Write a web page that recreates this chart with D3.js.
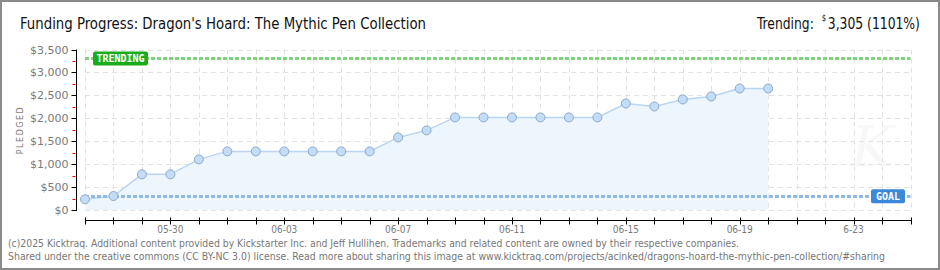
<!DOCTYPE html>
<html>
<head>
<meta charset="utf-8">
<script src="https://cdn.jsdelivr.net/npm/d3@7"></script>
<style>
  body { margin: 0; background: #fff; }
  svg { display: block; }
</style>
</head>
<body>
<div id="chart"></div>
<script>
// funding data
var dates = ["2025-05-27", "2025-05-28", "2025-05-29", "2025-05-30", "2025-05-31",
             "2025-06-01", "2025-06-02", "2025-06-03", "2025-06-04", "2025-06-05",
             "2025-06-06", "2025-06-07", "2025-06-08", "2025-06-09", "2025-06-10",
             "2025-06-11", "2025-06-12", "2025-06-13", "2025-06-14", "2025-06-15",
             "2025-06-16", "2025-06-17", "2025-06-18", "2025-06-19", "2025-06-20"]
var pledged = [233, 305, 777, 777, 1104,
               1278, 1278, 1278, 1278, 1278,
               1278, 1583, 1736, 2019, 2019,
               2019, 2019, 2019, 2019, 2323,
               2258, 2411, 2476, 2650, 2650]
var goal = 300
var trending = 3305
var yTicks = [0, 500, 1000, 1500, 2000, 2500, 3000, 3500]
var xLabels = ["05-30", "06-03", "06-07", "06-11", "06-15", "06-19", "6-23"]
var xLabelDates = ["2025-05-30", "2025-06-03", "2025-06-07", "2025-06-11", "2025-06-15", "2025-06-19", "2025-06-23"]
var startDate = "2025-05-27", endDate = "2025-06-25"

var width = 940, height = 270
var parse = d3.timeParse("%Y-%m-%d")

var svg = d3.select("#chart").append("svg")
    .attr("width", width)
    .attr("height", height)

// outer frame
svg.append("rect")
    .attr("x", 1).attr("y", 1)
    .attr("width", width - 2).attr("height", height - 2)
    .attr("fill", "#fff")
    .attr("stroke", "#8a8a8a")
    .attr("stroke-width", 2)

var x = d3.scaleTime()
    .domain([parse(startDate), parse(endDate)])
    .range([85, 910.5])
var y = d3.scaleLinear()
    .domain([0, 3500])
    .range([210, 49.5])

// faint watermark
svg.append("text")
    .attr("x", 872).attr("y", 166)
    .attr("text-anchor", "middle")
    .style("font-family", "DejaVu Serif")
    .style("font-style", "italic")
    .style("font-size", "56px")
    .style("fill", "#f8f8f8")
    .text("K")

// grid
var days = d3.timeDay.range(parse(startDate), d3.timeDay.offset(parse(endDate), 1))
svg.append("g").selectAll("line")
    .data(yTicks)
    .enter().append("line")
    .attr("x1", x.range()[0]).attr("x2", x.range()[1])
    .attr("y1", function(d){ return Math.round(y(d)) + 0.5 })
    .attr("y2", function(d){ return Math.round(y(d)) + 0.5 })
    .attr("stroke", "#e2e2e2")
    .attr("stroke-dasharray", "5,4")
svg.append("g").selectAll("line")
    .data(days)
    .enter().append("line")
    .attr("x1", function(d){ return Math.round(x(d)) + 0.5 })
    .attr("x2", function(d){ return Math.round(x(d)) + 0.5 })
    .attr("y1", y(3500)).attr("y2", y(0))
    .attr("stroke", "#e2e2e2")
    .attr("stroke-dasharray", "5,4")

// area + line
var pts = dates.map(function(d, i){ return {date: parse(d), value: pledged[i]} })
var area = d3.area()
    .x(function(d){ return x(d.date) })
    .y0(y(0))
    .y1(function(d){ return y(d.value) })
svg.append("path")
    .datum(pts)
    .attr("d", area)
    .attr("fill", "#edf5fd")
var line = d3.line()
    .x(function(d){ return x(d.date) })
    .y(function(d){ return y(d.value) })
svg.append("path")
    .datum(pts)
    .attr("d", line)
    .attr("fill", "none")
    .attr("stroke", "#b9d5f2")
    .attr("stroke-width", 1.5)

// goal and trending lines
svg.append("line")
    .attr("x1", x.range()[0]).attr("x2", x.range()[1])
    .attr("y1", Math.round(y(goal)) + 0.5).attr("y2", Math.round(y(goal)) + 0.5)
    .attr("stroke", "#92b9e6")
    .attr("stroke-width", 3)
    .attr("stroke-dasharray", "4,2")
svg.append("line")
    .attr("x1", x.range()[0]).attr("x2", x.range()[1])
    .attr("y1", Math.round(y(trending)) + 0.5).attr("y2", Math.round(y(trending)) + 0.5)
    .attr("stroke", "#7fd27f")
    .attr("stroke-width", 3)
    .attr("stroke-dasharray", "4,2")

// points
svg.append("g").selectAll("circle")
    .data(pts)
    .enter().append("circle")
    .attr("cx", function(d){ return x(d.date) })
    .attr("cy", function(d){ return y(d.value) })
    .attr("r", 4.5)
    .attr("fill", "#c3ddf8")
    .attr("stroke", "#8ea9c6")
    .attr("stroke-width", 1)

// badges
function badge(bx, by, w, label, color) {
    svg.append("rect")
        .attr("x", bx).attr("y", by)
        .attr("width", w).attr("height", 14)
        .attr("rx", 2)
        .attr("fill", color)
    svg.append("text")
        .attr("x", bx + w / 2).attr("y", by + 11)
        .attr("text-anchor", "middle")
        .style("font-family", "DejaVu Sans Mono")
        .style("font-weight", "bold")
        .style("font-size", "10px")
        .style("fill", "#fff")
        .text(label)
}
badge(93, y(trending) - 7, 55, "TRENDING", "#19ad19")
badge(871, y(goal) - 7, 34, "GOAL", "#3b87d9")

// y axis
var yAxis = svg.append("g")
    .attr("transform", "translate(76.5,0)")
yAxis.append("line")
    .attr("y1", y(3500)).attr("y2", y(0) + 1)
    .attr("stroke", "#000")
yAxis.selectAll(".major")
    .data(yTicks)
    .enter().append("line")
    .attr("x1", -5).attr("x2", 0)
    .attr("y1", function(d){ return Math.round(y(d)) + 0.5 })
    .attr("y2", function(d){ return Math.round(y(d)) + 0.5 })
    .attr("stroke", "#000")
yAxis.selectAll(".minor")
    .data(yTicks.slice(0, -1).map(function(d){ return d + 250 }))
    .enter().append("line")
    .attr("x1", -4).attr("x2", -1)
    .attr("y1", function(d){ return Math.round(y(d)) + 0.5 })
    .attr("y2", function(d){ return Math.round(y(d)) + 0.5 })
    .attr("stroke", "#e00")
yAxis.selectAll("text")
    .data(yTicks)
    .enter().append("text")
    .attr("x", -8)
    .attr("y", function(d){ return y(d) + 4 })
    .attr("text-anchor", "end")
    .style("font-family", "DejaVu Sans")
    .style("font-size", "11px")
    .style("fill", "#7a7a7a")
    .text(function(d){ return "$" + d3.format(",")(d) })

svg.append("text")
    .attr("transform", "translate(23,130) rotate(-90)")
    .attr("text-anchor", "middle")
    .style("font-family", "DejaVu Sans")
    .style("font-size", "8px")
    .style("letter-spacing", "1.5px")
    .style("fill", "#7a7a7a")
    .text("PLEDGED")

// x axis
var xAxis = svg.append("g")
    .attr("transform", "translate(0,220.5)")
xAxis.append("line")
    .attr("x1", x.range()[0]).attr("x2", x.range()[1] + 0.5)
    .attr("stroke", "#000")
xAxis.selectAll(".tick")
    .data(days)
    .enter().append("line")
    .attr("x1", function(d){ return Math.round(x(d)) + 0.5 })
    .attr("x2", function(d){ return Math.round(x(d)) + 0.5 })
    .attr("y1", -3).attr("y2", 4)
    .attr("stroke", "#000")
xAxis.selectAll("text")
    .data(xLabelDates)
    .enter().append("text")
    .attr("x", function(d){ return x(parse(d)) })
    .attr("y", 12)
    .attr("text-anchor", "middle")
    .style("font-family", "DejaVu Sans Condensed")
    .style("font-size", "10px")
    .style("fill", "#7a7a7a")
    .text(function(d, i){ return xLabels[i] })

// titles
svg.append("text")
    .attr("x", 20).attr("y", 29)
    .attr("textLength", 406)
    .attr("lengthAdjust", "spacingAndGlyphs")
    .style("font-family", "DejaVu Sans Condensed")
    .style("font-size", "16px")
    .style("fill", "#111")
    .text("Funding Progress: Dragon's Hoard: The Mythic Pen Collection")

// trending header: three separate texts laid out by measured width, then squeezed
var trendG = svg.append("g")
var t1 = trendG.append("text")
    .attr("x", 0).attr("y", 0)
    .style("font-family", "DejaVu Sans Condensed")
    .style("font-size", "16px")
    .style("fill", "#111")
    .text("Trending:")
var w1 = t1.node().getComputedTextLength()
var t2 = trendG.append("text")
    .attr("x", w1 + 9).attr("y", -8)
    .style("font-family", "DejaVu Sans Condensed")
    .style("font-size", "9px")
    .style("fill", "#111")
    .text("$")
var w2 = t2.node().getComputedTextLength()
var t3 = trendG.append("text")
    .attr("x", w1 + 9 + w2 + 2).attr("y", 0)
    .style("font-family", "DejaVu Sans Condensed")
    .style("font-size", "16px")
    .style("fill", "#111")
    .text(d3.format(",")(trending) + " (" + Math.floor(trending / goal * 100) + "%)")
var total = w1 + 9 + w2 + 2 + t3.node().getComputedTextLength()
trendG.attr("transform", "translate(757,29) scale(" + (163 / total) + ",1)")

// footer
var footer = [
    "(c)2025 Kicktraq. Additional content provided by Kickstarter Inc. and Jeff Hullihen. Trademarks and related content are owned by their respective companies.",
    "Shared under the creative commons (CC BY-NC 3.0) license. Read more about sharing this image at www.kicktraq.com/projects/acinked/dragons-hoard-the-mythic-pen-collection/#sharing"
]
var footerLen = [731, 877]
svg.selectAll(".footer")
    .data(footer)
    .enter().append("text")
    .attr("x", 8)
    .attr("y", function(d, i){ return 247 + i * 13 })
    .attr("textLength", function(d, i){ return footerLen[i] })
    .attr("lengthAdjust", "spacingAndGlyphs")
    .style("font-family", "DejaVu Sans Condensed")
    .style("font-size", "10px")
    .style("fill", "#777")
    .text(function(d){ return d })
</script>
</body>
</html>
